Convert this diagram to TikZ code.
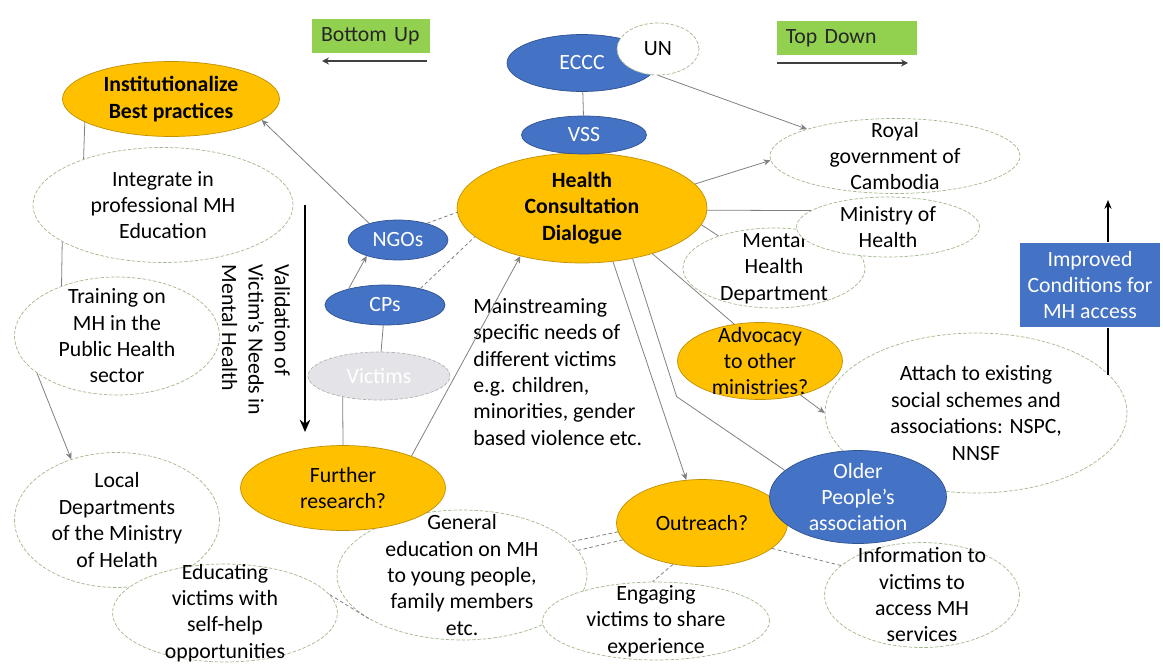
\documentclass[tikz,border=0pt]{standalone}
\usepackage{fontspec}
\setmainfont{Carlito}
\usepackage{tikz}
\usetikzlibrary{shapes.geometric, arrows.meta}
\definecolor{msblue}{HTML}{4472C4}
\definecolor{msbluedark}{HTML}{2F528F}
\definecolor{msgold}{HTML}{FFC000}
\definecolor{msgolddark}{HTML}{C09000}
\definecolor{msgreen}{HTML}{92D050}
\definecolor{bubline}{HTML}{A3B88C}
\definecolor{linegray}{HTML}{7F7F7F}
\definecolor{victimgray}{HTML}{E4E4E8}
\newcommand{\figfont}{\fontsize{12.4}{15}\selectfont}

\begin{document}
\begin{tikzpicture}[x=0.02cm, y=-0.02cm, font=\figfont,
    bubble/.style={ellipse, draw=bubline, dash pattern=on 2pt off 1pt, fill=white, align=center, inner xsep=0pt, inner ysep=-8pt},
    goldbubble/.style={ellipse, draw=msgolddark, fill=msgold, align=center, inner xsep=0pt, inner ysep=-8pt},
    bluebubble/.style={ellipse, draw=msbluedark, fill=msblue, text=white, align=center, inner xsep=0pt, inner ysep=-8pt},
    tag/.style={rectangle, fill=msgreen, text=black!85, align=left, minimum height=0.7cm, inner xsep=5pt},
    conn/.style={draw=linegray, line width=0.45pt},
    arr/.style={conn, -{Stealth[length=4pt, width=3.5pt]}},
    dconn/.style={conn, dash pattern=on 2pt off 1.5pt},
    flow/.style={draw=black!75, line width=1pt, -{Stealth[length=4pt, width=4pt]}}]
    \useasboundingbox (0,0) rectangle (1163,666);

    \node[goldbubble, font=\figfont\bfseries, minimum width=4.34cm, minimum height=1.5cm] (inst) at (171,99) {Institutionalize\\Best practices};
    \node[bubble, minimum width=5.2cm, minimum height=2.3cm] (integ) at (163,205) {Integrate in\\professional MH\\Education};
    \node[bubble, minimum width=4.1cm, minimum height=2.36cm] (train) at (117,336) {Training on\\MH in the\\Public Health\\sector};
    \node[bubble, minimum width=4.1cm, minimum height=2.7cm] (local) at (117,520) {Local\\Departments\\of the Ministry\\of Helath};
    \node[bubble, inner ysep=-10pt, minimum width=4.5cm, minimum height=1.96cm] (edu) at (225,613) {Educating\\victims with\\self-help\\opportunities};
    \node[bubble, inner ysep=-11pt, minimum width=5cm, minimum height=2.6cm] (gen) at (462,575) {General\\education on MH\\to young people,\\family members\\etc.};
    \node[bubble, minimum width=4.54cm, minimum height=1.56cm] (eng) at (656,621) {Engaging\\victims to share\\experience};
    \node[goldbubble, minimum width=4.1cm, minimum height=1.7cm] (further) at (343,488) {Further\\research?};
    \node[ellipse, draw=black!30, dash pattern=on 2pt off 1pt, fill=victimgray, text=white, minimum width=2.84cm, minimum height=0.96cm] (vic) at (379,376) {Victims};
    \node[bluebubble, minimum width=2.4cm, minimum height=0.8cm] (cp) at (385,305) {CPs};
    \node[bluebubble, minimum width=2cm, minimum height=0.8cm] (ngo) at (398,240) {NGOs};
    \node[goldbubble, font=\figfont\bfseries, minimum width=5cm, minimum height=2.2cm] (hcd) at (582,208) {Health\\Consultation\\Dialogue};
    \node[bluebubble, minimum width=2.5cm, minimum height=0.76cm] (vss) at (584,135) {VSS};
    \node[bluebubble, minimum width=3cm, minimum height=1.14cm] (eccc) at (582,63) {ECCC};
    \node[bubble, minimum width=1.64cm, minimum height=1.04cm] (un) at (658,49) {UN};
    \node[bubble, minimum width=5cm, minimum height=1.5cm] (royal) at (895,156) {Royal\\government of\\Cambodia};
    \node[bubble, minimum width=3.64cm, minimum height=1.6cm] (mental) at (774,268) {Mental\\Health\\Department};
    \node[bubble, minimum width=3.66cm, minimum height=1.2cm] (ministry) at (888,227) {Ministry of\\Health};
    \node[bubble, minimum width=6.04cm, minimum height=3.2cm] (attach) at (976,413) {Attach to existing\\social schemes and\\associations: NSPC,\\NNSF};
    \node[goldbubble, minimum width=3.3cm, minimum height=1.54cm] (adv) at (760,361) {Advocacy\\to other\\ministries?};
    \node[bubble, minimum width=3.9cm, minimum height=2.1cm] (info) at (922,595) {Information to\\victims to\\access MH\\services};
    \node[goldbubble, minimum width=3.42cm, minimum height=1.74cm] (out) at (702,523) {Outreach?};
    \node[bluebubble, minimum width=3.54cm, minimum height=1.86cm] (older) at (858,497) {Older\\People's\\association};

    \node[rectangle, fill=msblue, text=white, align=center, inner sep=2pt, minimum width=2.8cm, minimum height=1.7cm] (imp) at (1090,285) {Improved\\Conditions for\\MH access};
    \node[tag, text width=2cm] (bu) at (371,36) {Bottom Up};
    \node[tag, text width=2.45cm] (td) at (847,38) {Top Down};
    \node[align=left, anchor=west, inner sep=0pt] (mainstream) at (473,372) {Mainstreaming\\specific needs of\\different victims\\e.g. children,\\minorities, gender\\based violence etc.};
    \node[align=left, rotate=-90, inner sep=0pt] (valid) at (256,340) {Validation of\\Victim's Needs in\\Mental Health};

    \coordinate (butail) at (427,61);
    \coordinate (buhead) at (322,61);
    \coordinate (tdtail) at (777,63);
    \coordinate (tdhead) at (908,63);
    \coordinate (vtop) at (305,205);
    \coordinate (vbot) at (305,432);
    \coordinate (imptip) at (1108,200);
    \coordinate (impend) at (1108,375);

    \draw[flow] (butail) -- (buhead);
    \draw[flow] (tdtail) -- (tdhead);
    \draw[line width=1.6pt, -{Stealth[length=7pt, width=6pt]}] (vtop) -- (vbot);
    \draw[line width=1pt] (impend) -- (impend |- imp.south);
    \draw[line width=1pt, -{Stealth[length=5pt, width=4pt]}] (imptip |- imp.north) -- (imptip);

    \draw (inst.195) edge[conn] (integ.150);
    \draw (integ.200) edge[conn] (train.138);
    \draw (train.205) edge[arr] (local.127);
    \draw (ngo.150) edge[arr] (inst.-13);
    \draw (cp.156) edge[arr] (ngo.207);
    \draw (vic) edge[conn] (cp);
    \draw (vic.210) edge[conn] (further.north);
    \draw (ngo.30) edge[dconn] (hcd.182);
    \draw (cp.25) edge[dconn] (hcd.195);
    \draw (further.25) edge[arr] (hcd.218);
    \draw (eccc) edge[conn] (vss);
    \draw (un.south) edge[arr] (royal.163);
    \draw (hcd.12) edge[arr] (royal.182);
    \draw (hcd.-1) edge[conn] (ministry.168);
    \draw (hcd.-8) edge[conn] (mental.150);
    \draw (hcd.-33) edge[conn] (adv.125);
    \draw[conn] (hcd.-45) -- ++(44,138) -- (older.160);
    \draw (hcd.-60) edge[arr] (out.110);
    \draw (adv.-40) edge[arr] (attach.west);
    \draw (out.-20) edge[dconn] (info.160);
    \draw (out.-125) edge[dconn] (eng.95);
    \draw (out.186) edge[dconn] (gen.17);
    \draw (out.192) edge[dconn] (gen.12);
    \draw (edu.10) edge[dconn] (gen.205);
\end{tikzpicture}
\end{document}
